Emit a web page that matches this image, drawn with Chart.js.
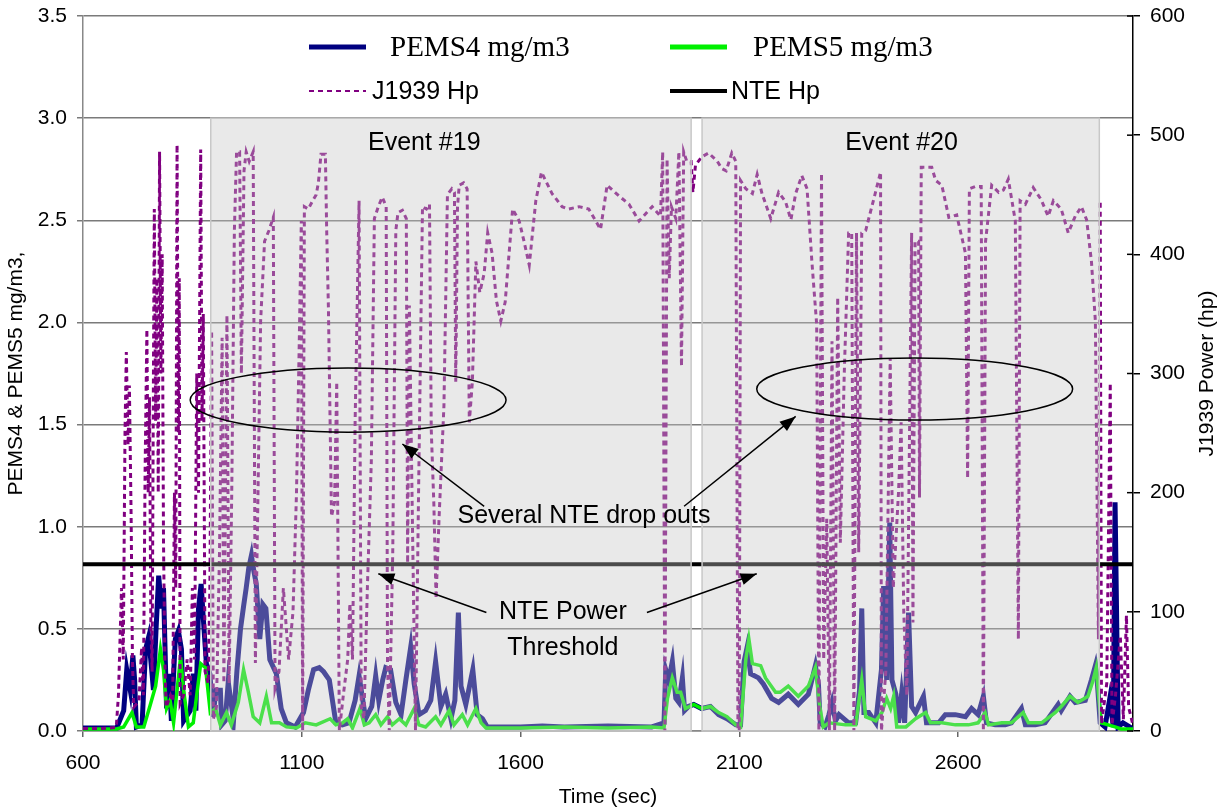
<!DOCTYPE html>
<html>
<head>
<meta charset="utf-8">
<script src="https://cdn.jsdelivr.net/npm/chart.js@4.4.0/dist/chart.umd.min.js"></script>
<style>
  html, body { margin: 0; padding: 0; background: #fff; }
</style>
</head>
<body>
<canvas id="nteChart" width="1225" height="811"></canvas>
<script>
// x axis tick labels (sec)
const timeTicks = [600, 1100, 1600, 2100, 2600];

// J1939 engine power [sec, hp] (right axis)
const hpSeries = [[600,2],[640,2],[676,3],[681,30],[688,120],[692,60],[696,250],[699,318],[703,240],[706,290],[710,180],[713,60],[716,20],[728,25],[734,70],[738,30],[742,220],[746,337],[749,200],[752,280],[755,90],[758,50],[761,300],[763,438],[766,260],[769,380],[772,200],[775,486],[778,300],[781,400],[784,160],[787,60],[790,20],[800,30],[805,25],[809,200],[812,120],[815,492],[818,250],[820,380],[822,23],[830,30],[838,60],[845,30],[850,120],[855,60],[860,300],[864,200],[869,488],[872,260],[875,350],[879,50],[886,40],[890,120],[894,336],[898,10],[905,20],[912,150],[918,330],[922,40],[929,349],[934,40],[940,200],[946,420],[951,486],[958,486],[962,300],[968,470],[973,486],[980,478],[989,486],[994,57],[1000,200],[1006,344],[1015,411],[1025,420],[1035,431],[1039,36],[1048,50],[1058,120],[1070,60],[1080,100],[1088,200],[1094,320],[1099,428],[1102,0],[1106,440],[1115,438],[1125,445],[1133,450],[1138,460],[1144,484],[1154,484],[1157,420],[1161,354],[1168,180],[1175,192],[1180,293],[1186,0],[1195,30],[1205,60],[1210,107],[1216,60],[1222,260],[1231,445],[1236,20],[1242,10],[1250,120],[1259,226],[1266,430],[1275,440],[1284,448],[1293,440],[1296,57],[1300,0],[1308,150],[1315,420],[1320,435],[1330,437],[1339,430],[1342,141],[1346,357],[1352,200],[1360,0],[1367,200],[1376,440],[1385,438],[1392,442],[1396,253],[1402,190],[1407,111],[1414,180],[1425,273],[1433,450],[1443,455],[1449,452],[1452,293],[1456,440],[1460,458],[1470,460],[1478,455],[1483,259],[1490,293],[1498,394],[1507,368],[1517,384],[1525,418],[1535,401],[1545,361],[1555,344],[1565,360],[1582,438],[1597,428],[1608,411],[1620,391],[1635,445],[1648,469],[1660,460],[1672,451],[1695,440],[1710,438],[1734,440],[1756,438],[1783,421],[1798,458],[1825,449],[1848,442],[1871,428],[1901,440],[1920,432],[1925,486],[1930,0],[1935,480],[1940,380],[1945,440],[1955,430],[1962,486],[1968,306],[1973,486],[1980,478],[1990,478],[1994,452],[2000,475],[2015,482],[2030,485],[2050,478],[2060,472],[2070,470],[2083,485],[2092,478],[2097,0],[2100,0],[2103,462],[2115,455],[2130,451],[2141,467],[2152,451],[2172,430],[2190,452],[2206,444],[2218,429],[2229,451],[2243,466],[2255,455],[2266,394],[2277,341],[2282,0],[2288,468],[2293,60],[2300,178],[2306,0],[2312,327],[2318,0],[2325,364],[2331,158],[2340,300],[2350,418],[2357,418],[2362,0],[2368,418],[2373,150],[2380,418],[2389,420],[2396,430],[2410,450],[2423,469],[2425,0],[2435,50],[2445,313],[2452,120],[2464,200],[2470,259],[2476,100],[2483,30],[2494,418],[2497,91],[2502,411],[2510,411],[2512,196],[2516,473],[2530,473],[2540,473],[2549,462],[2563,458],[2579,431],[2597,433],[2617,401],[2622,212],[2626,455],[2640,457],[2653,457],[2658,0],[2663,411],[2677,458],[2693,452],[2704,454],[2715,463],[2731,428],[2738,77],[2742,445],[2754,442],[2772,456],[2790,446],[2806,432],[2818,445],[2836,438],[2852,418],[2868,432],[2882,440],[2894,429],[2905,394],[2914,344],[2921,77],[2925,445],[2928,6],[2940,40],[2948,292],[2952,5],[2960,30],[2971,80],[2978,10],[2985,97],[2990,20],[3000,5]];

// PEMS4 [sec, mg/m3] (left axis)
const pems4Series = [[600,0.015],[677,0.015],[693,0.10],[700,0.30],[708,0.20],[714,0.37],[718,0.25],[722,0.02],[735,0.03],[743,0.40],[750,0.46],[757,0.30],[761,0.20],[767,0.50],[773,0.76],[779,0.60],[784,0.70],[791,0.11],[797,0.28],[802,0.05],[811,0.45],[818,0.49],[825,0.40],[830,0.05],[845,0.10],[852,0.28],[858,0.10],[864,0.60],[870,0.72],[875,0.55],[882,0.33],[890,0.28],[897,0.07],[904,0.20],[914,0.20],[917,0.03],[925,0.05],[932,0.24],[944,0.05],[952,0.30],[960,0.50],[967,0.61],[973,0.70],[979,0.80],[985,0.86],[989,0.80],[996,0.72],[1004,0.45],[1011,0.62],[1018,0.60],[1027,0.35],[1042,0.28],[1053,0.11],[1065,0.04],[1085,0.02],[1104,0.09],[1115,0.20],[1127,0.30],[1140,0.31],[1150,0.29],[1163,0.25],[1178,0.04],[1193,0.03],[1208,0.04],[1222,0.15],[1231,0.27],[1246,0.06],[1260,0.12],[1269,0.27],[1276,0.15],[1285,0.25],[1292,0.31],[1303,0.30],[1315,0.14],[1327,0.08],[1338,0.25],[1349,0.41],[1357,0.23],[1368,0.08],[1383,0.10],[1395,0.15],[1406,0.34],[1418,0.12],[1429,0.18],[1441,0.06],[1450,0.15],[1458,0.58],[1464,0.22],[1475,0.13],[1491,0.30],[1501,0.08],[1513,0.06],[1524,0.02],[1600,0.02],[1650,0.025],[1700,0.02],[1800,0.025],[1900,0.02],[1928,0.04],[1932,0.30],[1939,0.25],[1947,0.34],[1955,0.16],[1962,0.14],[1970,0.26],[1975,0.10],[1984,0.12],[1996,0.13],[2014,0.11],[2034,0.12],[2053,0.08],[2072,0.06],[2092,0.03],[2103,0.03],[2111,0.34],[2118,0.41],[2126,0.28],[2144,0.26],[2155,0.23],[2174,0.16],[2190,0.14],[2212,0.18],[2235,0.13],[2258,0.18],[2274,0.32],[2281,0.23],[2285,0.04],[2296,0.02],[2305,0.08],[2312,0.14],[2320,0.05],[2328,0.08],[2350,0.04],[2366,0.04],[2375,0.20],[2380,0.60],[2385,0.09],[2396,0.09],[2412,0.04],[2425,0.30],[2430,0.71],[2437,0.25],[2444,1.02],[2449,0.25],[2458,0.18],[2464,0.04],[2471,0.18],[2478,0.04],[2487,0.58],[2494,0.12],[2503,0.09],[2521,0.17],[2528,0.04],[2556,0.04],[2571,0.08],[2594,0.08],[2617,0.07],[2631,0.11],[2646,0.08],[2658,0.17],[2665,0.04],[2685,0.03],[2708,0.03],[2722,0.04],[2745,0.11],[2754,0.03],[2777,0.03],[2799,0.04],[2829,0.13],[2836,0.10],[2856,0.17],[2868,0.14],[2891,0.15],[2905,0.25],[2914,0.32],[2918,0.25],[2925,0.04],[2936,0.02],[2947,0.16],[2955,0.02],[2959,1.12],[2966,0.02],[2977,0.04],[3000,0.01]];

// PEMS5 [sec, mg/m3] (left axis)
const pems5Series = [[600,0.01],[677,0.01],[693,0.02],[712,0.09],[722,0.02],[739,0.02],[754,0.13],[766,0.22],[777,0.40],[784,0.30],[791,0.11],[799,0.15],[807,0.04],[823,0.36],[830,0.20],[841,0.02],[852,0.04],[869,0.33],[880,0.31],[891,0.09],[903,0.11],[914,0.03],[928,0.09],[939,0.03],[955,0.14],[967,0.30],[978,0.19],[989,0.07],[1004,0.04],[1019,0.17],[1031,0.04],[1049,0.04],[1065,0.02],[1088,0.015],[1108,0.04],[1133,0.03],[1165,0.06],[1178,0.03],[1193,0.04],[1205,0.06],[1216,0.015],[1233,0.11],[1243,0.03],[1254,0.04],[1269,0.08],[1281,0.03],[1296,0.07],[1307,0.03],[1323,0.06],[1338,0.03],[1357,0.11],[1368,0.03],[1383,0.02],[1406,0.07],[1418,0.03],[1437,0.10],[1448,0.03],[1467,0.08],[1479,0.03],[1498,0.11],[1510,0.04],[1521,0.015],[1600,0.015],[1700,0.02],[1800,0.015],[1900,0.02],[1928,0.015],[1936,0.16],[1947,0.26],[1958,0.19],[1966,0.19],[1977,0.11],[1996,0.13],[2014,0.11],[2034,0.12],[2053,0.09],[2072,0.07],[2092,0.03],[2103,0.02],[2115,0.35],[2122,0.45],[2130,0.33],[2149,0.32],[2160,0.26],[2183,0.19],[2194,0.19],[2212,0.22],[2235,0.17],[2258,0.22],[2274,0.31],[2284,0.12],[2292,0.02],[2305,0.04],[2343,0.03],[2366,0.03],[2380,0.25],[2389,0.07],[2412,0.05],[2426,0.09],[2437,0.16],[2446,0.11],[2453,0.17],[2460,0.02],[2481,0.02],[2503,0.06],[2526,0.09],[2537,0.04],[2563,0.04],[2594,0.03],[2624,0.03],[2646,0.04],[2662,0.09],[2670,0.03],[2700,0.04],[2722,0.04],[2749,0.09],[2761,0.04],[2791,0.04],[2822,0.09],[2836,0.12],[2856,0.17],[2874,0.14],[2897,0.17],[2909,0.25],[2916,0.31],[2922,0.16],[2928,0.04],[2959,0.02],[2973,0.01],[3000,0.01]];

// NTE power threshold (hp)
const nteHp = 140;

// NTE events (sec)
const eventLabels = ['Event #19', 'Event #20'];
const eventStart = [892, 2015];
const eventEnd = [1990, 2923];

const FONT = "'Liberation Sans', Arial, sans-serif";
const SERIF = "'Liberation Serif', 'Times New Roman', serif";

function toPoints(series) {
  return series.map(p => ({ x: p[0], y: p[1] }));
}

function arrow(ctx, x0, y0, x1, y1) {
  ctx.beginPath();
  ctx.moveTo(x0, y0);
  ctx.lineTo(x1, y1);
  ctx.stroke();
  const a = Math.atan2(y1 - y0, x1 - x0), L = 16, W = 6;
  ctx.beginPath();
  ctx.moveTo(x1, y1);
  ctx.lineTo(x1 - L * Math.cos(a) + W * Math.sin(a), y1 - L * Math.sin(a) - W * Math.cos(a));
  ctx.lineTo(x1 - L * Math.cos(a) - W * Math.sin(a), y1 - L * Math.sin(a) + W * Math.cos(a));
  ctx.closePath();
  ctx.fill();
}

// y scales: fixed width, no extra label padding at the top
function fixWidth(w) {
  return s => { s.width = w; s.paddingTop = 0; s.paddingBottom = 0; };
}

// event shading + notes, drawn over the lines (lines show muted inside events)
const overlayPlugin = {
  id: 'nteOverlay',
  afterDatasetsDraw(chart) {
    const { ctx, scales: { x, y } } = chart;
    const px = v => x.getPixelForValue(v), py = v => y.getPixelForValue(v);
    ctx.save();
    const yTop = py(3.0), yBot = py(0);
    eventStart.forEach((s, i) => {
      const x0 = px(s), x1 = px(eventEnd[i]);
      ctx.fillStyle = 'rgba(197,197,197,0.38)';
      ctx.fillRect(x0, yTop, x1 - x0, yBot - yTop);
      ctx.strokeStyle = '#c8c8c8';
      ctx.lineWidth = 1.5;
      ctx.strokeRect(x0, yTop, x1 - x0, yBot - yTop);
    });

    ctx.fillStyle = '#000';
    ctx.font = '25px ' + FONT;
    ctx.textAlign = 'center';
    ctx.textBaseline = 'middle';
    ctx.fillText(eventLabels[0], px(1380), py(2.88));
    ctx.fillText(eventLabels[1], px(2471), py(2.88));

    ctx.strokeStyle = '#000';
    ctx.lineWidth = 1.5;
    // ellipses around the drop outs
    [[1206, 1.62, 361, 0.157], [2501, 1.674, 361, 0.152]].forEach(e => {
      const cx = px(e[0]), cy = py(e[1]);
      const rx = px(e[0] + e[2]) - cx;
      const ry = cy - py(e[1] + e[3]);
      ctx.beginPath();
      ctx.ellipse(cx, cy, rx, ry, 0, 0, Math.PI * 2);
      ctx.stroke();
    });

    arrow(ctx, px(1517), py(1.10), px(1330), py(1.405));
    arrow(ctx, px(1974), py(1.10), px(2229), py(1.54));
    arrow(ctx, px(1522), py(0.58), px(1275), py(0.77));
    arrow(ctx, px(1889), py(0.58), px(2140), py(0.77));

    ctx.fillText('Several NTE drop outs', px(1745), py(1.05));
    ctx.fillText('NTE Power', px(1697), py(0.582));
    ctx.fillText('Threshold', px(1697), py(0.406));
    ctx.restore();
  },
  afterDraw(chart) {
    const { ctx, chartArea, scales: { y1 } } = chart;
    ctx.save();
    // right axis tick marks cross the axis line
    ctx.strokeStyle = '#000';
    ctx.lineWidth = 1.5;
    y1.ticks.forEach(t => {
      const yy = y1.getPixelForValue(t.value);
      ctx.beginPath();
      ctx.moveTo(chartArea.right - 6, yy);
      ctx.lineTo(chartArea.right, yy);
      ctx.stroke();
    });

    // right axis title, reading bottom to top
    ctx.translate(1207, (chartArea.top + chartArea.bottom) / 2);
    ctx.rotate(-Math.PI / 2);
    ctx.fillStyle = '#000';
    ctx.font = '21px ' + FONT;
    ctx.textAlign = 'center';
    ctx.textBaseline = 'middle';
    ctx.fillText('J1939 Power (hp)', 0, 0);
    ctx.restore();

    // legend inside the plot, above the 3.0 line
    ctx.save();
    const ds = chart.data.datasets;
    const rows = [
      [ds[0], 309, 47, SERIF, 29, 390], [ds[1], 670, 47, SERIF, 29, 753],
      [ds[2], 309, 91, FONT, 25, 372], [ds[3], 670, 91, FONT, 25, 731]
    ];
    rows.forEach(r => {
      const d = r[0];
      ctx.strokeStyle = d.borderColor;
      ctx.lineWidth = d.legendWidth;
      ctx.setLineDash(d.borderDash || []);
      ctx.beginPath();
      ctx.moveTo(r[1], r[2]);
      ctx.lineTo(r[1] + 57, r[2]);
      ctx.stroke();
      ctx.setLineDash([]);
      ctx.fillStyle = '#000';
      ctx.font = r[4] + 'px ' + r[3];
      ctx.textAlign = 'left';
      ctx.textBaseline = 'middle';
      ctx.fillText(d.label, r[5], r[2] + 1);
    });
    ctx.restore();
  }
};

const ctx = document.getElementById('nteChart').getContext('2d');
new Chart(ctx, {
  type: 'line',
  data: {
    datasets: [{
      label: 'PEMS4 mg/m3',
      data: toPoints(pems4Series),
      yAxisID: 'y',
      borderColor: '#000080',
      borderWidth: 5,
      legendWidth: 5,
      order: 3
    }, {
      label: 'PEMS5 mg/m3',
      data: toPoints(pems5Series),
      yAxisID: 'y',
      borderColor: '#00f000',
      borderWidth: 3.5,
      legendWidth: 5,
      order: 2
    }, {
      label: 'J1939 Hp',
      data: toPoints(hpSeries),
      yAxisID: 'y1',
      borderColor: '#800080',
      borderWidth: 3,
      borderDash: [5, 4],
      legendWidth: 2,
      order: 1
    }, {
      label: 'NTE Hp',
      data: [{ x: 600, y: nteHp }, { x: 3000, y: nteHp }],
      yAxisID: 'y1',
      borderColor: '#000',
      borderWidth: 4,
      legendWidth: 4,
      order: 0
    }]
  },
  options: {
    responsive: false,
    animation: false,
    devicePixelRatio: 1,
    layout: { padding: { top: 16, left: 0, right: 0, bottom: 0 } },
    elements: { point: { radius: 0 }, line: { tension: 0, fill: false } },
    plugins: { legend: { display: false }, tooltip: { enabled: false } },
    scales: {
      x: {
        type: 'linear',
        min: 600,
        max: 3000,
        afterBuildTicks: s => { s.ticks = timeTicks.map(v => ({ value: v })); },
        afterFit: s => { s.height = 80; },
        grid: { drawOnChartArea: false, tickLength: 6, color: '#666', lineWidth: 1.5 },
        border: { color: '#888', width: 1.5 },
        ticks: { color: '#000', font: { family: FONT, size: 21 }, padding: 14, maxRotation: 0, callback: v => String(v) },
        title: { display: true, text: 'Time (sec)', color: '#000', font: { family: FONT, size: 21 }, padding: { top: 0, bottom: 1 } }
      },
      y: {
        position: 'left',
        min: 0,
        max: 3.5,
        afterFit: fixWidth(83),
        ticks: { stepSize: 0.5, color: '#000', font: { family: FONT, size: 21 }, padding: 10, callback: v => v.toFixed(1) },
        grid: { color: '#7a7a7a', lineWidth: 1.5, tickLength: 6 },
        border: { color: '#888', width: 1.5 },
        title: { display: true, text: 'PEMS4 & PEMS5 mg/m3,', color: '#000', font: { family: FONT, size: 21 }, padding: { top: 4, bottom: 0 } }
      },
      y1: {
        position: 'right',
        min: 0,
        max: 600,
        afterFit: fixWidth(92),
        ticks: { stepSize: 100, color: '#000', font: { family: FONT, size: 21 }, padding: 10 },
        grid: { drawOnChartArea: false, tickLength: 7, color: '#000', lineWidth: 1.5 },
        border: { color: '#000', width: 1.5 }
      }
    }
  },
  plugins: [overlayPlugin]
});
</script>
</body>
</html>
